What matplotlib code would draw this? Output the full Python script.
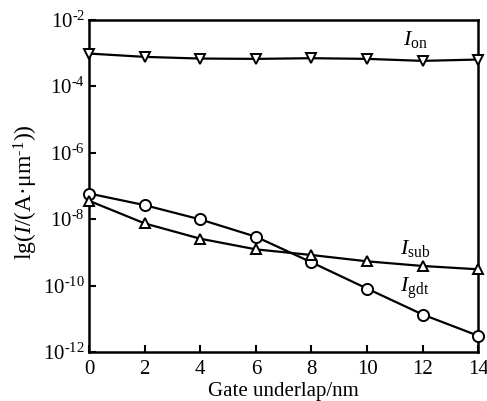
import matplotlib
matplotlib.use("Agg")
import matplotlib.pyplot as plt
import numpy as np

plt.rcParams['font.family'] = ['Liberation Serif', 'DejaVu Serif']
plt.rcParams['mathtext.fontset'] = 'custom'
plt.rcParams['mathtext.rm'] = 'Liberation Serif'
plt.rcParams['mathtext.it'] = 'Liberation Serif:italic'

underlap = [0, 2, 4, 6, 8, 10, 12, 14]
log_ion = [-3.02, -3.12, -3.17, -3.18, -3.16, -3.18, -3.24, -3.20]
log_igdt = [-7.23, -7.58, -8.01, -8.53, -9.30, -10.09, -10.87, -11.51]
log_isub = [-7.45, -8.13, -8.59, -8.91, -9.08, -9.27, -9.41, -9.51]
yticks_exp = [-2, -4, -6, -8, -10, -12]

ion = 10.0 ** np.array(log_ion)
igdt = 10.0 ** np.array(log_igdt)
isub = 10.0 ** np.array(log_isub)

fig = plt.figure(figsize=(4.87, 4.01), dpi=100)
ax = fig.add_axes([0.183, 0.122, 0.799, 0.829])

kw = dict(color='black', lw=1.6, markerfacecolor='white', markeredgecolor='black',
          markeredgewidth=1.4, clip_on=False, zorder=3)
ax.plot(underlap, ion, marker='v', markersize=7, **kw)
ax.plot(underlap, igdt, marker='o', markersize=8, **kw)
ax.plot(underlap, isub, marker='^', markersize=7, **kw)

ax.set_yscale('log')
ax.set_xlim(0, 14)
ax.set_ylim(1e-12, 1e-2)
ax.set_xticks(underlap)
ax.set_xticklabels([str(v) for v in underlap])
ax.set_yticks([10.0 ** e for e in yticks_exp])
ax.set_yticklabels([r'10$^{\mathrm{' + '\u2010' + str(-e) + '}}$' for e in yticks_exp])
ax.yaxis.set_minor_locator(matplotlib.ticker.NullLocator())
ax.tick_params(direction='in', length=5, width=1.5, labelsize=15)
ax.tick_params(axis='x', pad=6)
ax.tick_params(axis='y', pad=3)
for s in ax.spines.values():
    s.set_linewidth(1.8)

ax.set_xlabel('Gate underlap/nm', fontsize=15, labelpad=2)
ax.set_ylabel(r'lg($I$/(A·μm$^{\mathrm{' + '\u2010' + '1}}$))', fontsize=17, labelpad=4)
ax.yaxis.set_label_coords(-0.125, 0.48)

ax.text(11.3, 10 ** -2.75, r'$I_{\mathrm{on}}$', fontsize=16)
ax.text(11.2, 10 ** -9.05, r'$I_{\mathrm{sub}}$', fontsize=16)
ax.text(11.2, 10 ** -10.2, r'$I_{\mathrm{gdt}}$', fontsize=16)

fig.savefig('out.png', dpi=100)
